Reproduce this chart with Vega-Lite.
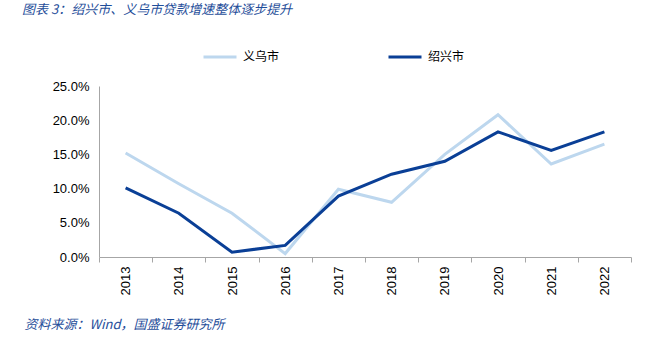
{
  "$schema": "https://vega.github.io/schema/vega-lite/v6.json",
  "width": 532,
  "height": 171,
  "autosize": {"type": "none"},
  "padding": {"left": 99, "top": 86, "right": 30, "bottom": 89},
  "background": "white",
  "title": {
    "text": "图表 3：绍兴市、义乌市贷款增速整体逐步提升",
    "anchor": "start",
    "frame": "group",
    "dx": -77,
    "offset": 22,
    "font": "Noto Sans CJK SC",
    "fontSize": 13,
    "fontStyle": "italic",
    "fontWeight": "normal",
    "color": "#1F4E9A"
  },
  "data": {
    "values": [
      {"year": "2013", "city": "义乌市", "v": 0.152},
      {"year": "2014", "city": "义乌市", "v": 0.107},
      {"year": "2015", "city": "义乌市", "v": 0.064},
      {"year": "2016", "city": "义乌市", "v": 0.005},
      {"year": "2017", "city": "义乌市", "v": 0.099},
      {"year": "2018", "city": "义乌市", "v": 0.080},
      {"year": "2019", "city": "义乌市", "v": 0.150},
      {"year": "2020", "city": "义乌市", "v": 0.208},
      {"year": "2021", "city": "义乌市", "v": 0.136},
      {"year": "2022", "city": "义乌市", "v": 0.165},
      {"year": "2013", "city": "绍兴市", "v": 0.101},
      {"year": "2014", "city": "绍兴市", "v": 0.064},
      {"year": "2015", "city": "绍兴市", "v": 0.007},
      {"year": "2016", "city": "绍兴市", "v": 0.017},
      {"year": "2017", "city": "绍兴市", "v": 0.089},
      {"year": "2018", "city": "绍兴市", "v": 0.121},
      {"year": "2019", "city": "绍兴市", "v": 0.140},
      {"year": "2020", "city": "绍兴市", "v": 0.183},
      {"year": "2021", "city": "绍兴市", "v": 0.156},
      {"year": "2022", "city": "绍兴市", "v": 0.183}
    ]
  },
  "mark": {"type": "line", "strokeWidth": 3},
  "encoding": {
    "x": {
      "field": "year",
      "type": "ordinal",
      "scale": {"type": "band", "paddingInner": 0, "paddingOuter": 0},
      "axis": {
        "title": "资料来源：Wind，国盛证券研究所",
        "titleX": -75,
        "titleY": 67,
        "titleAlign": "left",
        "titleAnchor": "start",
        "titleBaseline": "middle",
        "titleAngle": 0,
        "titleFont": "Noto Sans CJK SC",
        "titleFontSize": 13,
        "titleFontStyle": "italic",
        "titleFontWeight": "normal",
        "titleColor": "#1F4E9A",
        "labelAngle": -90,
        "labelAlign": "right",
        "labelBaseline": "middle",
        "labelFont": "Liberation Sans",
        "labelFontSize": 13,
        "labelColor": "#000000",
        "labelPadding": 4,
        "tickBand": "extent",
        "tickSize": 5,
        "tickColor": "#A6A6A6",
        "domainColor": "#A6A6A6",
        "grid": false
      }
    },
    "y": {
      "field": "v",
      "type": "quantitative",
      "scale": {"domain": [0, 0.25]},
      "axis": {
        "title": null,
        "values": [0, 0.05, 0.1, 0.15, 0.2, 0.25],
        "format": ".1%",
        "labelFont": "Liberation Sans",
        "labelFontSize": 13,
        "labelColor": "#000000",
        "labelPadding": 10,
        "ticks": false,
        "domainColor": "#A6A6A6",
        "grid": false
      }
    },
    "color": {
      "field": "city",
      "type": "nominal",
      "scale": {"domain": ["义乌市", "绍兴市"], "range": ["#BDD7EE", "#0A3F96"]},
      "legend": {
        "title": null,
        "orient": "none",
        "direction": "horizontal",
        "legendX": 103,
        "legendY": -47,
        "symbolType": "stroke",
        "symbolSize": 1089,
        "symbolStrokeWidth": 3,
        "labelFont": "Noto Sans CJK SC",
        "labelFontSize": 12,
        "labelColor": "#000000",
        "labelOffset": 5,
        "columnPadding": 102
      }
    }
  },
  "config": {"view": {"stroke": null}}
}
